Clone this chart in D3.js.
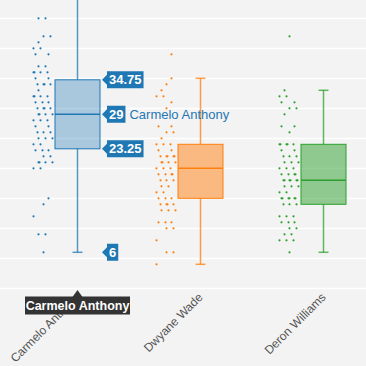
<!DOCTYPE html>
<html>
<head>
<meta charset="utf-8">
<script src="https://cdn.jsdelivr.net/npm/d3@7"></script>
<style>
  body { margin: 0; background: #f3f3f3; }
  svg { display: block; font-family: "Liberation Sans", Arial, sans-serif; }
</style>
</head>
<body>
<div id="chart"></div>
<script>
var players = ["Carmelo Anthony", "Dwyane Wade", "Deron Williams"];
var colors = ["#1f77b4", "#ff7f0e", "#2ca02c"];

// box statistics
var q1 = [23.25, 15, 14];
var median = [29, 20, 18];
var q3 = [34.75, 24, 24];
var whiskerLow = [6, 4, 6];
var whiskerHigh = [52, 35, 33];

var gridTicks = [0, 5, 10, 15, 20, 25, 30, 35, 40, 45];
var calloutValues = [34.75, 29, 23.25, 6];

var carmeloPoints = [45, 45, 42, 42, 41, 40, 40, 39, 39, 37, 37, 36, 36, 36, 36, 35, 35,
  34, 34, 34, 34, 33, 32, 32, 32, 32, 31, 31, 31, 30, 30, 30, 30, 29, 29, 29, 29,
  28, 28, 28, 27, 27, 26, 26, 26, 25, 25, 25, 24, 24, 23, 23, 23, 22, 22, 21, 21,
  21, 21, 20, 20, 15, 14, 12, 9, 9, 6];
var wadePoints = [39, 35, 34, 33, 32, 32, 31, 30, 27, 27, 26, 26, 25, 24, 24, 24, 23, 23,
  22, 22, 22, 22, 22, 21, 21, 21, 21, 20, 20, 20, 19, 19, 19, 19, 18, 18, 18, 17, 17,
  16, 16, 15, 15, 15, 14, 14, 14, 14, 13, 13, 13, 11, 11, 11, 10, 10, 8, 6, 6, 4];
var williamsPoints = [42, 33, 32, 32, 31, 31, 30, 30, 29, 27, 27, 26, 24, 24, 24, 24, 24,
  23, 23, 22, 22, 22, 21, 21, 21, 20, 20, 20, 19, 19, 19, 19, 18, 18, 18, 18, 18, 18,
  17, 17, 17, 16, 16, 15, 15, 15, 15, 15, 15, 14, 14, 14, 12, 12, 12, 11, 11, 11,
  10, 10, 9, 9, 8, 8, 8, 6];
var allPoints = [carmeloPoints, wadePoints, williamsPoints];

var W = 366, H = 366;
var BOX_WIDTH = 45;
var boxOpacity = [0.35, 0.5, 0.5];

var svg = d3.select("#chart").append("svg")
  .attr("width", W)
  .attr("height", H);

svg.append("rect")
  .attr("width", W)
  .attr("height", H)
  .attr("fill", "#f3f3f3");

var x = d3.scaleBand().domain(players).range([16, 385]);
var y = d3.scaleLinear().domain([0, 48]).range([288.3, 0.3]);

function center(p)
{
  return x(p) + x.bandwidth() / 2;
}

// grid lines
svg.append("g").selectAll("line")
  .data(gridTicks)
  .enter().append("line")
  .attr("x1", 0)
  .attr("x2", W)
  .attr("y1", function (d) { return Math.round(y(d)) + 0.5; })
  .attr("y2", function (d) { return Math.round(y(d)) + 0.5; })
  .attr("stroke", "#ffffff")
  .attr("stroke-width", 1.5);

// points, laid out side by side when values repeat
players.forEach(function (p, i)
{
  var seen = {};
  var g = svg.append("g");
  allPoints[i].forEach(function (v)
  {
    var k = seen[v] || 0;
    seen[v] = k + 1;
    var off = -44 + ((k * 7 + v * 5) % 20);
    g.append("circle")
      .attr("cx", center(p) + off)
      .attr("cy", y(v))
      .attr("r", 1.1)
      .attr("fill", colors[i]);
  });
});

// boxes and whiskers
players.forEach(function (p, i)
{
  var cx = center(p);
  var g = svg.append("g");
  var c = colors[i];

  g.append("line")
    .attr("x1", cx).attr("x2", cx)
    .attr("y1", y(q3[i])).attr("y2", y(whiskerHigh[i]))
    .attr("stroke", c).attr("stroke-width", 1.5).attr("stroke-opacity", 0.75);
  g.append("line")
    .attr("x1", cx).attr("x2", cx)
    .attr("y1", y(q1[i])).attr("y2", y(whiskerLow[i]))
    .attr("stroke", c).attr("stroke-width", 1.5).attr("stroke-opacity", 0.75);
  [whiskerLow[i], whiskerHigh[i]].forEach(function (v)
  {
    g.append("line")
      .attr("x1", cx - 5).attr("x2", cx + 5)
      .attr("y1", y(v)).attr("y2", y(v))
      .attr("stroke", c).attr("stroke-width", 1.5).attr("stroke-opacity", 0.75);
  });

  g.append("rect")
    .attr("x", cx - BOX_WIDTH / 2)
    .attr("y", y(q3[i]))
    .attr("width", BOX_WIDTH)
    .attr("height", y(q1[i]) - y(q3[i]))
    .attr("fill", c)
    .attr("fill-opacity", boxOpacity[i])
    .attr("stroke", c)
    .attr("stroke-width", 1);

  g.append("line")
    .attr("x1", cx - BOX_WIDTH / 2).attr("x2", cx + BOX_WIDTH / 2)
    .attr("y1", y(median[i])).attr("y2", y(median[i]))
    .attr("stroke", c).attr("stroke-width", 1.5);
});

// callout tags for the first player
var tipX = center(players[0]) + BOX_WIDTH / 2 + 2;
var tags = svg.append("g");
calloutValues.forEach(function (v)
{
  var g = tags.append("g").attr("transform", "translate(" + tipX + "," + y(v) + ")");
  var t = g.append("text")
    .attr("x", 7)
    .attr("y", 4.5)
    .attr("fill", "#ffffff")
    .attr("font-size", 13)
    .attr("font-weight", "bold")
    .text(d3.format("~g")(v));
  var w = t.node().getComputedTextLength();
  g.insert("path", "text")
    .attr("d", "M0,0 L5,-5 L5,-8.5 L" + (9 + w) + ",-8.5 L" + (9 + w) + ",8.5 L5,8.5 L5,5 Z")
    .attr("fill", colors[0]);
  if (v === median[0])
  {
    g.append("text")
      .attr("x", 9 + w + 4)
      .attr("y", 4.5)
      .attr("fill", colors[0])
      .attr("font-size", 13)
      .text(players[0]);
  }
});

// rotated x labels
svg.append("g").selectAll("text")
  .data(players)
  .enter().append("text")
  .attr("transform", function (p) { return "translate(" + (center(p) + 3) + ",298) rotate(-45)"; })
  .attr("text-anchor", "end")
  .attr("fill", "#555555")
  .attr("font-size", 12)
  .text(function (p) { return p; });

// tooltip
var tipCx = center(players[0]);
var tip = svg.append("g");
tip.append("path")
  .attr("d", "M" + (tipCx - 5) + ",297 L" + tipCx + ",290 L" + (tipCx + 5) + ",297 Z")
  .attr("fill", "#333333");
tip.append("rect")
  .attr("x", 25)
  .attr("y", 296.5)
  .attr("width", 105)
  .attr("height", 18)
  .attr("fill", "#333333");
tip.append("text")
  .attr("x", 77.5)
  .attr("y", 310)
  .attr("text-anchor", "middle")
  .attr("fill", "#ffffff")
  .attr("font-size", 12.5)
  .attr("font-weight", "bold")
  .text(players[0]);
</script>
</body>
</html>
